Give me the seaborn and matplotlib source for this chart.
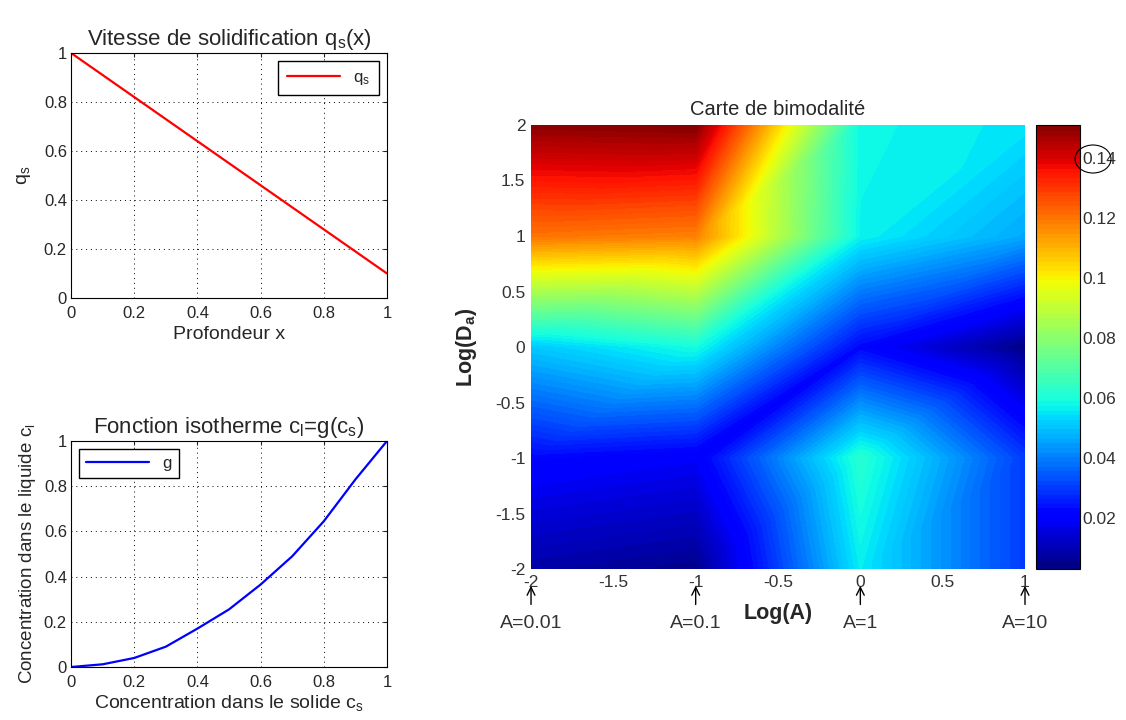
import matplotlib
matplotlib.use("Agg")
import matplotlib.pyplot as plt
from matplotlib.patches import Ellipse
import numpy as np
import seaborn as sns

# --- data ---
depth = [0.0, 0.1, 0.2, 0.3, 0.4, 0.5, 0.6, 0.7, 0.8, 0.9, 1.0]
q_s = [1.0, 0.91, 0.82, 0.73, 0.64, 0.55, 0.46, 0.37, 0.28, 0.19, 0.10]

c_s = [0.0, 0.1, 0.2, 0.3, 0.4, 0.5, 0.6, 0.7, 0.8, 0.9, 1.0]
c_l = [0.0, 0.012, 0.04, 0.09, 0.17, 0.255, 0.365, 0.49, 0.645, 0.83, 1.0]

log_a = [-2, -1, 0, 1]
log_d = [-2, -1, 0, 1, 2]
# rows follow log_d, columns follow log_a
bimod = [
    [0.008, 0.005, 0.056, 0.030],
    [0.022, 0.019, 0.062, 0.030],
    [0.051, 0.059, 0.022, 0.004],
    [0.120, 0.118, 0.057, 0.046],
    [0.150, 0.151, 0.058, 0.055],
]
a_labels = ["A=0.01", "A=0.1", "A=1", "A=10"]
cbar_ticks = [0.02, 0.04, 0.06, 0.08, 0.10, 0.12, 0.14]
cbar_labels = ["0.02", "0.04", "0.06", "0.08", "0.1", "0.12", "0.14"]

sns.set_style("white")
plt.rcParams['font.family'] = ['Liberation Sans', 'DejaVu Sans']
plt.rcParams['mathtext.default'] = 'regular'
plt.rcParams['xtick.direction'] = 'in'
plt.rcParams['ytick.direction'] = 'in'
plt.rcParams['axes.edgecolor'] = 'black'
plt.rcParams['axes.linewidth'] = 0.8

fig = plt.figure(figsize=(11.26, 7.2), dpi=100)
fig.patch.set_facecolor('white')

ticks = [0, 0.2, 0.4, 0.6, 0.8, 1]
tick_lbl = ["0", "0.2", "0.4", "0.6", "0.8", "1"]


def style_small(ax):
    ax.set_xlim(0, 1)
    ax.set_ylim(0, 1)
    ax.set_xticks(ticks, tick_lbl, fontsize=12)
    ax.set_yticks(ticks, tick_lbl, fontsize=12)
    ax.grid(True, linestyle=(0, (1, 4)), color='black', linewidth=0.7)
    ax.tick_params(length=3, top=True, right=True, labeltop=False, labelright=False)
    ax.tick_params(axis='x', pad=6)
    ax.tick_params(axis='y', pad=3)
    for sp in ax.spines.values():
        sp.set_visible(True)


# --- top left: q_s(x) ---
ax1 = fig.add_axes([0.0631, 0.5861, 0.2806, 0.3403])
sns.lineplot(x=depth, y=q_s, color='red', linewidth=1.6, label='q$_s$', ax=ax1)
style_small(ax1)
ax1.set_title('Vitesse de solidification q$_s$(x)', fontsize=16, pad=6)
ax1.set_xlabel('Profondeur x', fontsize=14, labelpad=3)
ax1.set_ylabel('q$_s$', fontsize=14, labelpad=8)
ax1.legend(loc='upper right', fancybox=False, edgecolor='black', framealpha=1,
           fontsize=12, handlelength=3.2, borderpad=0.5, borderaxespad=0.5)

# --- bottom left: isotherm ---
ax2 = fig.add_axes([0.0631, 0.0736, 0.2806, 0.3139])
sns.lineplot(x=c_s, y=c_l, color='blue', linewidth=1.6, label='g', ax=ax2)
style_small(ax2)
ax2.set_title('Fonction isotherme c$_l$=g(c$_s$)', fontsize=16, pad=6)
ax2.set_xlabel('Concentration dans le solide c$_s$', fontsize=14, labelpad=2)
ax2.set_ylabel('Concentration dans le liquide c$_l$', fontsize=13.5, labelpad=4)
ax2.legend(loc='upper left', fancybox=False, edgecolor='black', framealpha=1,
           fontsize=12, handlelength=3.8, borderpad=0.4, borderaxespad=0.5)

# --- right: bimodality map ---
ax3 = fig.add_axes([0.4716, 0.2097, 0.4387, 0.6167])
gx, gy = np.meshgrid(log_a, log_d)
nx = len(log_a)
tris = []
for j in range(len(log_d) - 1):
    for i in range(nx - 1):
        k = j * nx + i
        tris.append([k, k + 1, k + nx + 1])
        tris.append([k, k + nx + 1, k + nx])
levels = np.linspace(0.003, 0.152, 97)
cs = ax3.tricontourf(gx.ravel(), gy.ravel(), tris, np.array(bimod).ravel(),
                     levels=levels, cmap='jet', antialiased=False)
ax3.set_xlim(-2, 1)
ax3.set_ylim(-2, 2)
narrow = ['Liberation Sans Narrow', 'Liberation Sans', 'DejaVu Sans']
ax3.set_xticks([-2, -1.5, -1, -0.5, 0, 0.5, 1],
               ["-2", "-1.5", "-1", "-0.5", "0", "0.5", "1"])
ax3.set_yticks([-2, -1.5, -1, -0.5, 0, 0.5, 1, 1.5, 2],
               ["-2", "-1.5", "-1", "-0.5", "0", "0.5", "1", "1.5", "2"])
for lbl in ax3.get_xticklabels() + ax3.get_yticklabels():
    lbl.set_family(narrow)
    lbl.set_fontsize(12.5)
    lbl.set_color('#333333')
ax3.tick_params(length=0, pad=4)
for sp in ax3.spines.values():
    sp.set_visible(False)
ax3.set_title('Carte de bimodalité', fontsize=14.5, pad=7)
ax3.set_xlabel('Log(A)', fontsize=15.5, fontweight='bold', labelpad=10)
ax3.set_ylabel('Log(D$_a$)', fontsize=15.5, fontweight='bold', labelpad=12)

for xv, txt in zip(log_a, a_labels):
    ax3.annotate(txt, xy=(xv, -0.038), xycoords=('data', 'axes fraction'),
                 xytext=(xv, -0.122), textcoords=('data', 'axes fraction'),
                 ha='center', va='center', fontsize=14, family=narrow, color='#333333',
                 arrowprops=dict(arrowstyle='->', color='black', lw=1.0,
                                 shrinkA=5, shrinkB=0))

cax = fig.add_axes([0.9201, 0.2097, 0.0391, 0.6167])
cb = fig.colorbar(cs, cax=cax)
cb.set_ticks(cbar_ticks, labels=cbar_labels)
for lbl in cax.get_yticklabels():
    lbl.set_family(narrow)
    lbl.set_fontsize(12.5)
    lbl.set_color('#333333')
cax.set_ylim(0.003, 0.151)
cax.tick_params(length=4, direction='in', pad=2, color='black', left=True)
cb.outline.set_linewidth(0.8)

fig.add_artist(Ellipse((1093 / 1126, 1 - 159 / 720), 36 / 1126, 28 / 720,
                       transform=fig.transFigure, fill=False, edgecolor='black', lw=0.8))

fig.savefig('out.png', dpi=100)
